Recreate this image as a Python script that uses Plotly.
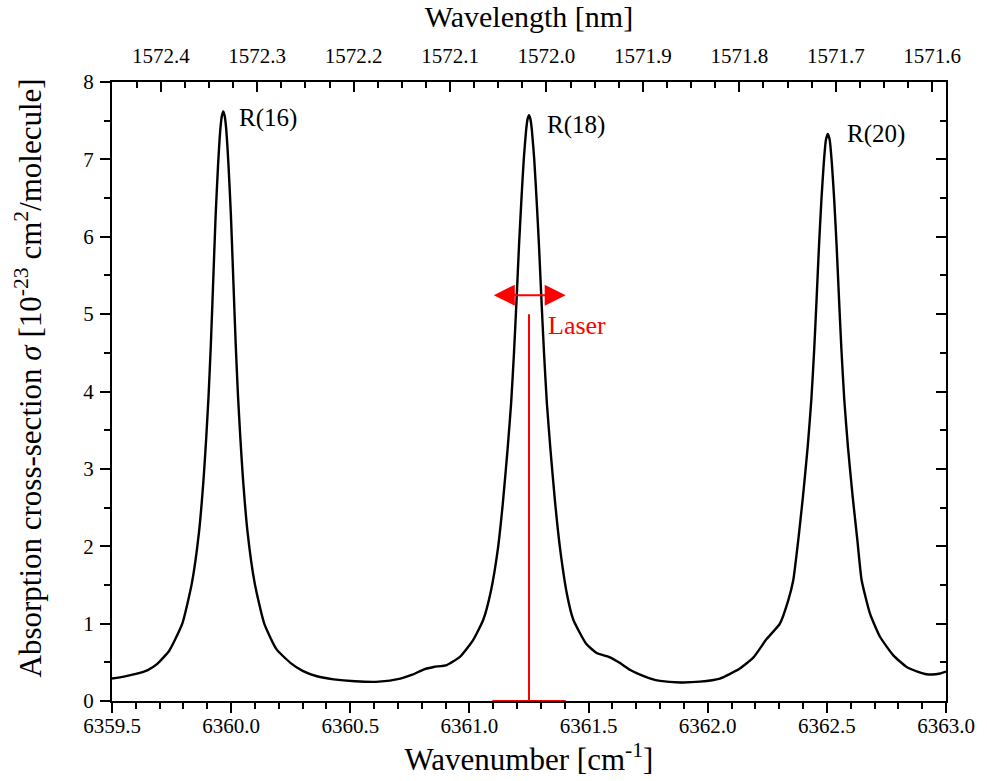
import plotly.graph_objects as go

# Spectrum (wavenumber in cm^-1, cross-section in 1e-23 cm^2/molecule)
wavenumber = [
    6359.50, 6359.55, 6359.60, 6359.65, 6359.69, 6359.74, 6359.795, 6359.835, 6359.865, 6359.885,
    6359.895, 6359.905, 6359.915, 6359.925, 6359.935, 6359.945, 6359.955, 6359.961, 6359.967, 6359.973,
    6359.979, 6359.989, 6359.999, 6360.009, 6360.019, 6360.029, 6360.039, 6360.049, 6360.069, 6360.099,
    6360.139, 6360.19, 6360.25, 6360.30, 6360.36, 6360.43, 6360.52, 6360.62, 6360.71, 6360.76,
    6360.81, 6360.85, 6360.905, 6360.96, 6361.016, 6361.058, 6361.09, 6361.12, 6361.14, 6361.16,
    6361.175, 6361.187, 6361.198, 6361.208, 6361.218, 6361.228, 6361.238, 6361.244, 6361.25, 6361.256,
    6361.262, 6361.272, 6361.282, 6361.292, 6361.302, 6361.313, 6361.325, 6361.34, 6361.36, 6361.38,
    6361.41, 6361.436, 6361.49, 6361.534, 6361.59, 6361.632, 6361.675, 6361.716, 6361.76, 6361.80,
    6361.884, 6361.967, 6362.051, 6362.135, 6362.191, 6362.247, 6362.303, 6362.338, 6362.359, 6362.38,
    6362.40, 6362.42, 6362.435, 6362.447, 6362.457, 6362.467, 6362.477, 6362.487, 6362.496, 6362.504,
    6362.512, 6362.521, 6362.531, 6362.541, 6362.551, 6362.561, 6362.573, 6362.588, 6362.608, 6362.628,
    6362.646, 6362.681, 6362.723, 6362.779, 6362.835, 6362.88, 6362.919, 6362.955, 6362.975, 6363.00,
]
sigma = [
    0.29, 0.315, 0.35, 0.40, 0.48, 0.65, 1.00, 1.52, 2.18, 2.90,
    3.38, 3.93, 4.62, 5.45, 6.28, 6.92, 7.40, 7.56, 7.62, 7.56,
    7.40, 6.92, 6.28, 5.45, 4.62, 3.93, 3.38, 2.90, 2.18, 1.52,
    1.00, 0.67, 0.49, 0.39, 0.32, 0.28, 0.255, 0.25, 0.29, 0.34,
    0.41, 0.44, 0.465, 0.57, 0.79, 1.05, 1.42, 1.98, 2.55, 3.25,
    3.85, 4.50, 5.20, 5.88, 6.47, 7.00, 7.38, 7.52, 7.57, 7.52,
    7.38, 7.00, 6.47, 5.88, 5.20, 4.50, 3.85, 3.25, 2.55, 1.98,
    1.37, 1.05, 0.74, 0.62, 0.565, 0.49, 0.40, 0.34, 0.29, 0.26,
    0.24, 0.25, 0.29, 0.42, 0.56, 0.80, 1.00, 1.30, 1.56, 2.08,
    2.65, 3.30, 3.90, 4.55, 5.20, 5.88, 6.47, 6.95, 7.25, 7.33,
    7.25, 6.95, 6.47, 5.88, 5.20, 4.55, 3.90, 3.30, 2.65, 2.08,
    1.56, 1.13, 0.83, 0.59, 0.44, 0.38, 0.345, 0.345, 0.355, 0.38,
]

peak_labels = ["R(16)", "R(18)", "R(20)"]
peak_label_x = [6360.026, 6361.317, 6362.576]
peak_label_y = [7.54, 7.45, 7.33]

laser_position = 6361.25
laser_top = 5.0
laser_scan = [6361.096, 6361.404]
laser_arrow_y = 5.245

bottom_ticks = [6359.5, 6360.0, 6360.5, 6361.0, 6361.5, 6362.0, 6362.5, 6363.0]
wavelength_ticks = [1572.4, 1572.3, 1572.2, 1572.1, 1572.0, 1571.9, 1571.8, 1571.7, 1571.6]
wavelength_minor = [round(1572.45 - 0.025 * i, 3) for i in range(36)]

XR = [6359.5, 6363.0]
YR = [0, 8]
FONT = "Liberation Serif"

fig = go.Figure()
fig.add_trace(go.Scatter(x=wavenumber, y=sigma, mode="lines",
                         line=dict(color="black", width=2.4, shape="spline", smoothing=0.5),
                         xaxis="x", yaxis="y", showlegend=False, hoverinfo="skip"))
fig.add_trace(go.Scatter(x=[laser_position, laser_position], y=[0, laser_top], mode="lines",
                         line=dict(color="red", width=2), showlegend=False, hoverinfo="skip"))
fig.add_trace(go.Scatter(x=laser_scan, y=[0, 0], mode="lines",
                         line=dict(color="red", width=2), showlegend=False, hoverinfo="skip",
                         cliponaxis=False))
fig.add_trace(go.Scatter(x=XR, y=YR, mode="markers", marker=dict(size=0.1, opacity=0), xaxis="x2", yaxis="y",
                         showlegend=False, hoverinfo="skip"))
fig.add_trace(go.Scatter(x=XR, y=YR, mode="markers", marker=dict(size=0.1, opacity=0), xaxis="x", yaxis="y2",
                         showlegend=False, hoverinfo="skip"))

fig.add_annotation(x=laser_scan[1], y=laser_arrow_y, ax=laser_scan[0], ay=laser_arrow_y,
                   xref="x", yref="y", axref="x", ayref="y", showarrow=True,
                   arrowside="end+start", arrowhead=2, startarrowhead=2,
                   arrowsize=2.1, startarrowsize=2.1, arrowwidth=2, arrowcolor="red", text="")

fig.add_annotation(x=6361.321, y=4.85, xref="x", yref="y", text="Laser",
                   showarrow=False, xanchor="left", yanchor="middle",
                   font=dict(family=FONT, size=26, color="red"))
for t, lx, ly in zip(peak_labels, peak_label_x, peak_label_y):
    fig.add_annotation(x=lx, y=ly, xref="x", yref="y", text=t, showarrow=False,
                       xanchor="left", yanchor="middle", font=dict(family=FONT, size=25, color="black"))

# y-axis title
fig.add_annotation(x=-0.1, y=0.522, xref="paper", yref="paper", textangle=-90,
                   text="Absorption cross-section <i>σ</i> [10<sup>-23</sup> cm<sup>2</sup>/molecule]",
                   showarrow=False, xanchor="center", yanchor="middle",
                   font=dict(family=FONT, size=31, color="black"))

wl_pos = [1e7 / w for w in wavelength_ticks]
wl_minor_pos = [1e7 / w for w in wavelength_minor if XR[0] <= 1e7 / w <= XR[1]]

axis_common = dict(showgrid=False, zeroline=False, linecolor="black", linewidth=2, automargin=False,
                   tickcolor="black", tickwidth=2, tickfont=dict(family=FONT, size=21, color="black"))

fig.update_layout(
    width=987, height=781,
    margin=dict(l=112, r=41, t=82, b=80),
    plot_bgcolor="white", paper_bgcolor="white",
    font=dict(family=FONT, color="black"),
    xaxis=dict(range=XR, tickvals=bottom_ticks, ticktext=[f"{v:.1f}" for v in bottom_ticks],
               ticks="outside", ticklen=10, mirror=True, ticklabeloverflow="allow", layer="below traces",
               ticklabelstandoff=-5,
               minor=dict(dtick=0.1, tick0=6359.5, ticks="outside", ticklen=6, tickwidth=2, tickcolor="black"),
               title=dict(text="Wavenumber [cm<sup>-1</sup>]", font=dict(family=FONT, size=31), standoff=6),
               **axis_common),
    xaxis2=dict(range=XR, overlaying="x", side="top", tickvals=wl_pos,
                ticktext=[f"{w:.1f}" for w in wavelength_ticks],
                ticks="inside", ticklen=10, ticklabeloverflow="allow", ticklabelstandoff=9,
                minor=dict(tickvals=wl_minor_pos, ticks="inside", ticklen=6, tickwidth=2, tickcolor="black"),
                title=dict(text="Wavelength [nm]", font=dict(family=FONT, size=30), standoff=8),
                **axis_common),
    yaxis=dict(range=YR, dtick=1, tick0=0, ticks="outside", ticklen=10, ticklabelstandoff=2,
               minor=dict(dtick=0.5, ticks="outside", ticklen=6, tickwidth=2, tickcolor="black"),
               **axis_common),
    yaxis2=dict(range=YR, overlaying="y", side="right", dtick=1, tick0=0, ticks="inside", ticklen=10,
                showticklabels=False,
                minor=dict(dtick=0.5, ticks="inside", ticklen=6, tickwidth=2, tickcolor="black"),
                **axis_common),
)

fig.write_html("out.html")
